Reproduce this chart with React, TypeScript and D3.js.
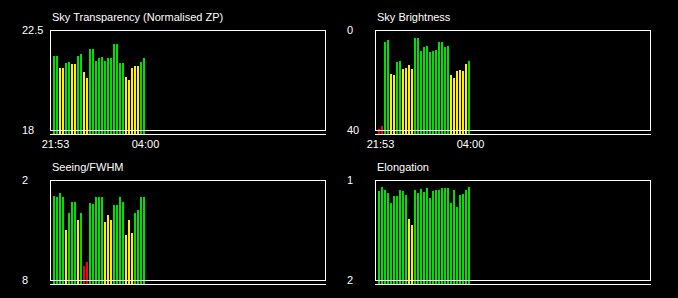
import React from "react";
import * as d3 from "d3";

// ---- data ----
const xTickLabels = ["21:53", "04:00"];
const xTickIndex = [0, 30];

const transparency = [21.33, 21.33, 20.79, 20.79, 21.02, 21.06, 20.97, 20.97, 21.33, 21.42, 20.61, 20.34, 21.65, 21.65, 21.11, 21.24, 21.29, 21.11, 21.24, 21.24, 21.87, 21.87, 21.02, 21.02, 20.39, 20.25, 20.79, 20.88, 20.88, 21.06, 21.24];
const transparencyStatus = "ggyyggyyggyyggggggggggggyyyyygg".split("");

const brightness = [39.6, 38.4, 4.8, 4.0, 17.6, 18, 12.8, 12.4, 15.6, 15.2, 14, 15.6, 3.2, 3.2, 8.4, 6.8, 6.4, 8.8, 8.4, 8, 4.8, 4.8, 6.8, 6.4, 18, 19.2, 16.4, 16, 16.4, 13.6, 12.4];
const brightnessStatus = "rrggyyggyyyyggggggggggggyyyyyyg".split("");

const seeing = [2.96, 3.02, 2.78, 3.02, 5.0, 3.98, 3.32, 3.32, 4.4, 3.98, 7.16, 6.92, 3.38, 3.44, 3.02, 3.02, 3.02, 4.52, 4.1, 4.4, 3.5, 3.5, 3.02, 3.32, 5.3, 4.4, 5.18, 3.98, 3.8, 3.02, 3.02];
const seeingStatus = "ggggygggygrrgggggyyyggggyyygggg".split("");

const elongation = [1.11, 1.07, 1.1, 1.13, 1.23, 1.16, 1.16, 1.1, 1.11, 1.15, 1.39, 1.45, 1.1, 1.13, 1.09, 1.12, 1.08, 1.18, 1.11, 1.1, 1.1, 1.08, 1.08, 1.08, 1.23, 1.1, 1.27, 1.15, 1.14, 1.1, 1.07];
const elongationStatus = "ggggggggggyygggggggggggggggggggg".slice(0, 31).split("");

const panelTitles = ["Sky Transparency (Normalised ZP)", "Sky Brightness", "Seeing/FWHM", "Elongation"];
const yTopLabels = ["22.5", "0", "2", "1"];
const yBottomLabels = ["18", "40", "8", "2"];
const yDomains: [number, number][] = [[22.5, 18], [0, 40], [2, 8], [1, 2]];

const COLORS: Record<string, string> = { g: "#00e000", y: "#ffee00", r: "#ff0000" };
const FONT = "'Liberation Sans', Arial, Helvetica, sans-serif";

const W = 678;
const H = 298;
const BOX_W = 275;
const BOX_H = 100;

type PanelProps = {
  left: number;
  top: number;
  title: string;
  values: number[];
  status: string[];
  domain: [number, number];
  topLabel: string;
  bottomLabel: string;
  showX: boolean;
};

function Panel({ left, top, title, values, status, domain, topLabel, bottomLabel, showX }: PanelProps) {
  const n = values.length;
  const x = d3.scaleLinear().domain([0, n]).range([left + 3, left + 3 + 3 * n]);
  const y = d3.scaleLinear().domain(domain).range([top, top + BOX_H]);
  const base = top + BOX_H + 4;
  return (
    <g>
      <text x={left + 2} y={top - 9} fill="#ffffff" fontSize={11} fontFamily={FONT}>
        {title}
      </text>
      <text x={left - 28} y={top + 4} fill="#ffffff" fontSize={11} fontFamily={FONT}>
        {topLabel}
      </text>
      <text x={left - 28} y={top + BOX_H + 4} fill="#ffffff" fontSize={11} fontFamily={FONT}>
        {bottomLabel}
      </text>
      {values.map((v, i) => (
        <rect
          key={i}
          x={x(i)}
          y={y(v)}
          width={2}
          height={Math.max(0, base - y(v))}
          fill={COLORS[status[i]] || COLORS.g}
          shapeRendering="crispEdges"
        />
      ))}
      <rect
        x={left + 0.5}
        y={top + 0.5}
        width={BOX_W}
        height={BOX_H}
        fill="none"
        stroke="#ffffff"
        strokeWidth={1}
        shapeRendering="crispEdges"
      />
      <line
        x1={left}
        x2={left + BOX_W + 1}
        y1={base + 0.5}
        y2={base + 0.5}
        stroke="#ffffff"
        strokeWidth={1}
        shapeRendering="crispEdges"
      />
      {showX &&
        xTickLabels.map((lab, k) => (
          <text
            key={lab}
            x={x(xTickIndex[k]) + 2.5}
            y={top + BOX_H + 18}
            fill="#ffffff"
            fontSize={11}
            fontFamily={FONT}
            textAnchor="middle"
          >
            {lab}
          </text>
        ))}
    </g>
  );
}

export default function App() {
  const series = [transparency, brightness, seeing, elongation];
  const statuses = [transparencyStatus, brightnessStatus, seeingStatus, elongationStatus];
  const lefts = [50, 375, 50, 375];
  const tops = [30, 30, 180, 180];
  return (
    <svg
      width={W}
      height={H}
      style={{ position: "fixed", left: 0, top: 0, display: "block" }}
    >
      <rect x={0} y={0} width={W} height={H} fill="#000000" />
      {series.map((vals, i) => (
        <Panel
          key={i}
          left={lefts[i]}
          top={tops[i]}
          title={panelTitles[i]}
          values={vals}
          status={statuses[i]}
          domain={yDomains[i]}
          topLabel={yTopLabels[i]}
          bottomLabel={yBottomLabels[i]}
          showX={i < 2}
        />
      ))}
    </svg>
  );
}
